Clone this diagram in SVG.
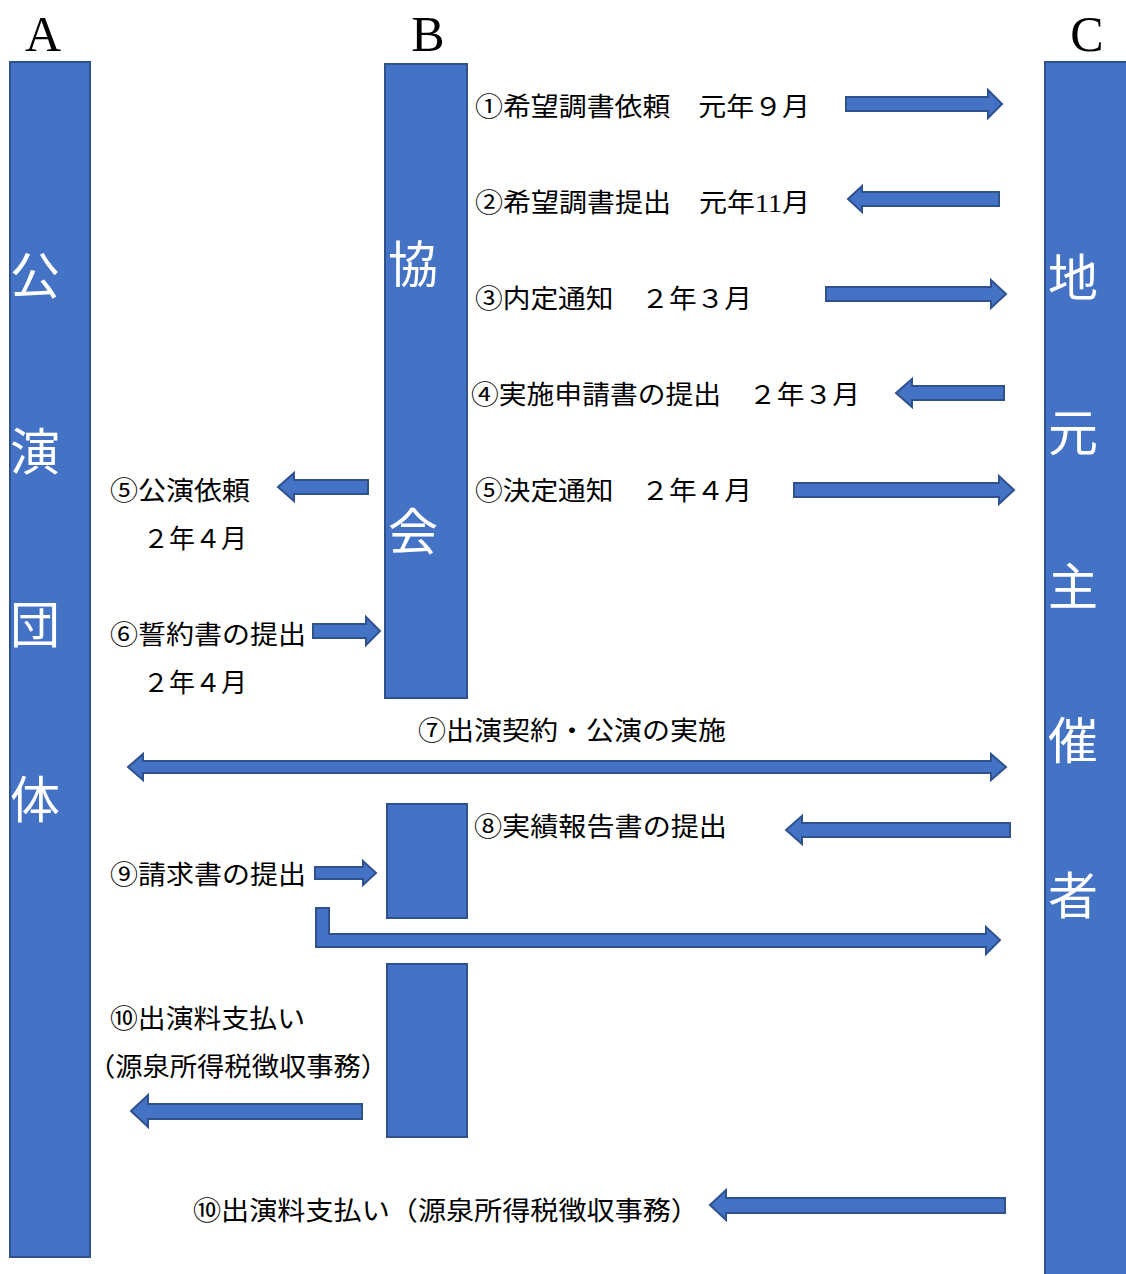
<svg xmlns="http://www.w3.org/2000/svg" width="1126" height="1274" viewBox="0 0 1126 1274">
<style>
.bar{fill:#4472C4;stroke:#2F528F;stroke-width:2}
.arr{fill:#4472C4;stroke:#2F528F;stroke-width:2;stroke-linejoin:miter}
.hd{font-family:"Liberation Serif",serif;font-size:50px;fill:#000;text-anchor:middle}
.wt{font-family:"Noto Sans CJK JP","Noto Sans",sans-serif;font-size:50px;fill:#fff}
.lb{font-family:"Liberation Serif","Noto Sans CJK JP",serif;font-size:26px;fill:#000}
</style>
<rect width="1126" height="1274" fill="#fff"/>
<g id="nodeA">
<text class="hd" x="43" y="51">A</text>
<rect class="bar" x="10" y="62" width="80" height="1195"/>
<text class="wt" x="10" y="294">公</text>
<text class="wt" x="10" y="470">演</text>
<text class="wt" x="10" y="643">団</text>
<text class="wt" x="10" y="818">体</text>
</g>
<g id="nodeB">
<text class="hd" x="428" y="51">B</text>
<rect class="bar" x="385" y="64" width="82" height="634"/>
<text class="wt" x="388" y="283">協</text>
<text class="wt" x="388" y="550">会</text>
</g>
<g id="nodeB2"><rect class="bar" x="387" y="804" width="80" height="114"/></g>
<g id="nodeB3"><rect class="bar" x="387" y="964" width="80" height="173"/></g>
<g id="nodeC">
<text class="hd" x="1087" y="51">C</text>
<rect class="bar" x="1045" y="62" width="90" height="1220"/>
<text class="wt" x="1048" y="296">地</text>
<text class="wt" x="1048" y="451">元</text>
<text class="wt" x="1048" y="605">主</text>
<text class="wt" x="1048" y="759">催</text>
<text class="wt" x="1048" y="914">者</text>
</g>
<g id="connectors">
<polygon class="arr" points="846,97 988,97 988,90 1002,104 988,118 988,111 846,111"/>
<polygon class="arr" points="848,199 862,186 862,192 999,192 999,206 862,206 862,212"/>
<polygon class="arr" points="826,287 991,287 991,280 1006,294 991,308 991,301 826,301"/>
<polygon class="arr" points="896,393 912,379 912,386 1004,386 1004,400 912,400 912,407"/>
<polygon class="arr" points="794,483 999,483 999,476 1014,490 999,504 999,497 794,497"/>
<polygon class="arr" points="278,487 294,473 294,480 368,480 368,494 294,494 294,501"/>
<polygon class="arr" points="313,624 366,624 366,617 380,631 366,645 366,638 313,638"/>
<polygon class="arr" points="128,767 143,754 143,761 991,761 991,754 1006,767 991,780 991,773 143,773 143,780"/>
<polygon class="arr" points="786,830 802,816 802,823 1010,823 1010,837 802,837 802,844"/>
<polygon class="arr" points="315,867 363,867 363,861 376,873 363,885 363,879 315,879"/>
<polygon class="arr" points="316,908 329,908 329,934 986,934 986,927 1000,940 986,954 986,947 316,947"/>
<polygon class="arr" points="131,1111 148,1095 148,1104 362,1104 362,1119 148,1119 148,1127"/>
<polygon class="arr" points="710,1205 726,1190 726,1198 1005,1198 1005,1213 726,1213 726,1220"/>
</g>
<g id="labels">
<text class="lb" x="475" y="116" textLength="335" lengthAdjust="spacingAndGlyphs">①希望調書依頼　元年９月</text>
<text class="lb" x="475" y="212" textLength="335" lengthAdjust="spacingAndGlyphs">②希望調書提出　元年11月</text>
<text class="lb" x="475" y="308" textLength="277" lengthAdjust="spacingAndGlyphs">③内定通知　２年３月</text>
<text class="lb" x="471" y="404" textLength="389" lengthAdjust="spacingAndGlyphs">④実施申請書の提出　２年３月</text>
<text class="lb" x="475" y="500" textLength="277" lengthAdjust="spacingAndGlyphs">⑤決定通知　２年４月</text>
<text class="lb" x="110" y="500" textLength="140" lengthAdjust="spacingAndGlyphs">⑤公演依頼</text>
<text class="lb" x="143" y="548" textLength="104" lengthAdjust="spacingAndGlyphs">２年４月</text>
<text class="lb" x="110" y="644" textLength="196" lengthAdjust="spacingAndGlyphs">⑥誓約書の提出</text>
<text class="lb" x="143" y="692" textLength="104" lengthAdjust="spacingAndGlyphs">２年４月</text>
<text class="lb" x="418" y="740" textLength="308" lengthAdjust="spacingAndGlyphs">⑦出演契約・公演の実施</text>
<text class="lb" x="474" y="836" textLength="253" lengthAdjust="spacingAndGlyphs">⑧実績報告書の提出</text>
<text class="lb" x="110" y="884" textLength="196" lengthAdjust="spacingAndGlyphs">⑨請求書の提出</text>
<text class="lb" x="110" y="1028" textLength="195" lengthAdjust="spacingAndGlyphs">⑩出演料支払い</text>
<text class="lb" x="88" y="1076" textLength="300" lengthAdjust="spacingAndGlyphs">（源泉所得税徴収事務）</text>
<text class="lb" x="193" y="1220" textLength="506" lengthAdjust="spacingAndGlyphs">⑩出演料支払い（源泉所得税徴収事務）</text>
</g>
</svg>
